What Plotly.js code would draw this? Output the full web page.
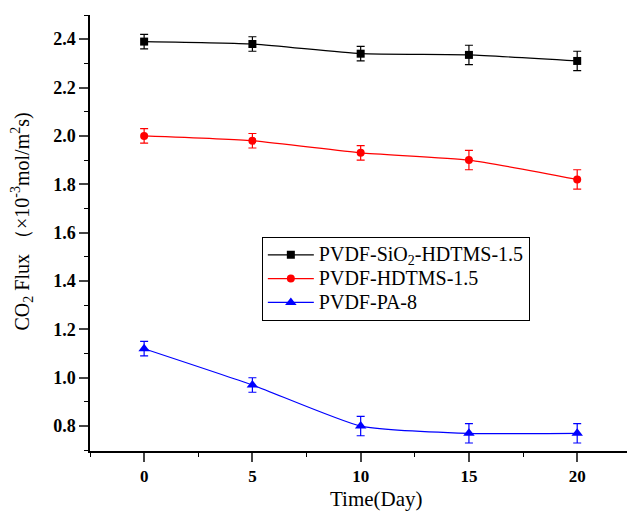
<!DOCTYPE html>
<html><head><meta charset="utf-8">
<script src="https://cdn.plot.ly/plotly-3.0.1.min.js"></script>
<style>body{margin:0;background:#fff}#chart{width:627px;height:511px}</style>
</head><body><div id="chart"></div>
<script>
var days = [0, 5, 10, 15, 20];
var names = ["PVDF-SiO<sub>2</sub>-HDTMS-1.5", "PVDF-HDTMS-1.5", "PVDF-PA-8"];
var sio2 = [2.39, 2.38, 2.34, 2.335, 2.31];
var sio2Err = [0.03, 0.03, 0.03, 0.04, 0.04];
var hdtms = [2.0, 1.98, 1.93, 1.90, 1.82];
var hdtmsErr = [0.03, 0.03, 0.03, 0.04, 0.04];
var pa = [1.12, 0.97, 0.80, 0.77, 0.77];
var paErr = [0.03, 0.03, 0.04, 0.04, 0.04];
var colors = ["#000000", "#ff0000", "#0000ff"];
var symbols = ["square", "circle", "triangle-up"];
var ys = [sio2, hdtms, pa];
var errs = [sio2Err, hdtmsErr, paErr];
var xTitle = 'Time(Day)';
var yTitle = 'CO<sub>2</sub> Flux （×10<sup>-3</sup>mol/m<sup>2</sup>s)';
var serif = 'Liberation Serif';

var traces = ys.map(function(y, i){
  return {
    x: days, y: y, name: '<span style="font-size:20px">' + names[i] + '</span>',
    type: 'scatter', mode: 'lines+markers',
    line: {color: colors[i], width: 1.2, shape: 'spline', smoothing: 0.5},
    marker: {color: colors[i], symbol: symbols[i], size: i === 2 ? 10 : 8},
    error_y: {type: 'data', array: errs[i], visible: true, color: colors[i], thickness: 1.2, width: 4}
  };
});

var layout = {
  width: 627, height: 511,
  margin: {l: 90, r: 0, t: 15, b: 60},
  paper_bgcolor: '#fff', plot_bgcolor: '#fff',
  font: {family: serif, color: '#000'},
  xaxis: {
    range: [-2.5, 22.3], tickvals: [0, 5, 10, 15, 20], ticks: 'outside', ticklen: 9, tickwidth: 1.5,
    showline: true, linecolor: '#000', linewidth: 1.5, showgrid: false, zeroline: false,
    tickfont: {size: 17, family: serif, weight: 'bold'},
    minor: {dtick: 2.5, ticks: 'outside', ticklen: 4, tickwidth: 1.2, tickcolor: '#000', showgrid: false}
  },
  yaxis: {
    range: [0.697, 2.5], dtick: 0.2, tick0: 0.8, tickformat: '.1f', ticks: 'outside', ticklen: 9, tickwidth: 1.5,
    showline: true, linecolor: '#000', linewidth: 1.5, showgrid: false, zeroline: false,
    tickfont: {size: 18, family: serif, weight: 'bold'},
    minor: {dtick: 0.1, ticks: 'outside', ticklen: 4, tickwidth: 1.2, tickcolor: '#000', showgrid: false}
  },
  annotations: [
    {text: xTitle, xref: 'paper', yref: 'paper', x: 0.533, y: -0.14, xanchor: 'center', yanchor: 'bottom',
     showarrow: false, font: {size: 21, family: serif}, borderpad: 0},
    {text: yTitle, xref: 'paper', yref: 'paper', x: -0.127, y: 0.526, xanchor: 'center', yanchor: 'middle',
     textangle: -90, showarrow: false, font: {size: 20, family: serif}}
  ],
  legend: {
    x: 0.32, y: 0.491, xanchor: 'left', yanchor: 'top',
    bordercolor: '#000', borderwidth: 1, bgcolor: '#fff',
    font: {size: 16, family: serif}, tracegroupgap: 0, itemwidth: 46
  },
  showlegend: true
};
Plotly.newPlot('chart', traces, layout, {displayModeBar: false});
</script>
</body></html>
